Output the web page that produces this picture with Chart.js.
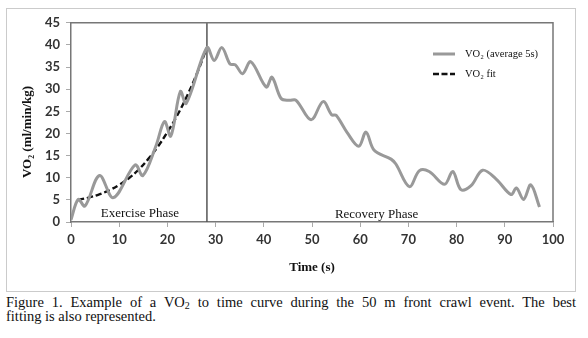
<!DOCTYPE html>
<html>
<head>
<meta charset="utf-8">
<script src="https://cdn.jsdelivr.net/npm/chart.js@4.4.1/dist/chart.umd.min.js"></script>
<style>
  html, body { margin: 0; padding: 0; background: #fff; }
  body { width: 588px; height: 338px; position: relative; overflow: hidden; }
  #box { position: absolute; left: 6px; top: 8px; width: 568px; height: 282px; border: 1px solid #cbcbcb; }
  #box canvas { display: block; }
  #caption { position: absolute; left: 6px; top: 296px; width: 570px; font-family: "Liberation Serif", "Times New Roman", serif; font-size: 14.5px; line-height: 13.5px; color: #111; }
  #caption .l1 { text-align: justify; text-align-last: justify; }
  #caption sub { font-size: 10px; vertical-align: -2px; line-height: 0; }
</style>
</head>
<body>
<div id="box"><canvas id="chartVO2" width="568" height="282"></canvas></div>
<div id="caption">
  <div class="l1">Figure 1. Example of a VO<sub>2</sub> to time curve during the 50 m front crawl event. The best</div>
  <div>fitting is also represented.</div>
</div>
<script>
// VO2 (average 5s)
const tempoVO2 = [0, 1.5, 2.9, 5.9, 8.8, 13.3, 14.9, 17.6, 19.4, 20.7, 22.7, 23.9, 28.2,
    29.7, 31.3, 33.0, 34.1, 35.6, 37.3, 40.5, 41.7, 43.6, 45.3, 46.7, 49.8, 52.3, 54.1, 55.0,
    57.3, 59.7, 61.2, 62.9, 66.4, 67.4, 70.2, 72.3, 74.3, 77.5, 79.2, 80.9, 83.0, 85.4, 88.2,
    91.3, 92.4, 93.9, 95.4, 97.2];
const valoresVO2 = [0.5, 5.1, 3.6, 10.5, 5.5, 12.9, 10.5, 17.1, 22.7, 19.4, 29.5, 26.8, 39.4,
    36.5, 39.4, 35.7, 35.5, 33.5, 36.2, 30.5, 32.7, 27.9, 27.5, 27.5, 23.1, 27.2, 24.2, 24.1,
    20.2, 17.1, 20.3, 16.2, 14.2, 13.1, 8.0, 11.6, 11.4, 8.5, 11.4, 7.3, 8.2, 11.7, 9.7,
    6.2, 7.7, 5.1, 8.4, 3.4];

// curva de ajuste (tracejada)
const tempoFit = [1.5, 4, 6, 8, 10, 12, 14, 16, 18, 20, 22, 24, 26, 28.2];
const valoresFit = [5.0, 5.6, 6.3, 7.2, 8.4, 9.9, 11.8, 14.2, 17.0, 20.3, 24.0, 28.3, 33.2, 39.4];

// fim da fase de exercício
const tempoFase = 28.2;
const fases = ['Exercise Phase', 'Recovery Phase'];
const posFases = [[14.3, 1.9], [63.4, 1.7]];

const legendas = ['VO\u2082 (average 5s)', 'VO\u2082 fit'];
const ticksX = [0, 100, 10];
const ticksY = [0, 45, 5];

const fonteTick = { family: 'Lato', weight: 'bold', size: 13 };

const molduraPlugin = {
    id: 'moldura',
    afterDatasetsDraw(chart) {
        const { ctx, chartArea: a, scales } = chart;
        ctx.save();
        // topo e direita do quadro
        ctx.strokeStyle = '#777';
        ctx.lineWidth = 1.5;
        ctx.beginPath();
        ctx.moveTo(a.left, a.top);
        ctx.lineTo(a.right, a.top);
        ctx.lineTo(a.right, a.bottom);
        ctx.stroke();

        // rótulos das fases
        ctx.fillStyle = '#111';
        ctx.font = '13px "Liberation Serif", serif';
        ctx.textAlign = 'center';
        ctx.textBaseline = 'middle';
        fases.forEach((txt, i) => {
            ctx.fillText(txt, scales.x.getPixelForValue(posFases[i][0]), scales.y.getPixelForValue(posFases[i][1]));
        });

        // legenda
        ctx.textAlign = 'left';
        ctx.font = '10.5px "Liberation Serif", serif';
        const ds = chart.data.datasets;
        [0, 1].forEach((i) => {
            const y = 45 + i * 20;
            ctx.strokeStyle = ds[i].borderColor;
            ctx.lineWidth = i === 0 ? 3 : 2.5;
            ctx.setLineDash(i === 0 ? [] : [6, 2.5]);
            ctx.beginPath();
            ctx.moveTo(426, y);
            ctx.lineTo(448, y);
            ctx.stroke();
            ctx.setLineDash([]);
            ctx.fillText(legendas[i], 458, y);
        });

        // título do eixo y
        ctx.translate(21, 123);
        ctx.rotate(-Math.PI / 2);
        ctx.textAlign = 'center';
        ctx.font = 'bold 13px "Liberation Serif", serif';
        ctx.fillText('VO\u2082 (ml/min/kg)', 0, 0);
        ctx.restore();
    }
};

function gerarGrafico() {
    const config = {
        type: 'line',
        data: {
            datasets: [{
                label: legendas[0],
                data: tempoVO2.map((t, i) => ({ x: t, y: valoresVO2[i] })),
                borderColor: '#999999',
                borderWidth: 3,
                pointRadius: 0,
                tension: 0.35
            }, {
                label: legendas[1],
                data: tempoFit.map((t, i) => ({ x: t, y: valoresFit[i] })),
                borderColor: '#111111',
                borderWidth: 2.4,
                borderDash: [6, 3],
                pointRadius: 0,
                tension: 0.4
            }, {
                label: 'fase',
                data: [{ x: tempoFase, y: ticksY[0] }, { x: tempoFase, y: ticksY[1] }],
                borderColor: '#555555',
                borderWidth: 1.5,
                pointRadius: 0
            }]
        },
        options: {
            responsive: false,
            animation: false,
            devicePixelRatio: 1,
            layout: { padding: { left: 0, right: 22, top: 12, bottom: 0 } },
            plugins: { legend: { display: false }, tooltip: { enabled: false } },
            scales: {
                x: {
                    type: 'linear',
                    min: ticksX[0], max: ticksX[1],
                    ticks: { stepSize: ticksX[2], font: fonteTick, color: '#333', padding: 5 },
                    grid: { drawOnChartArea: false, drawTicks: true, tickLength: 5, color: '#aaa' },
                    border: { display: true, color: '#777', width: 1.5 },
                    title: { display: true, text: 'Time (s)', color: '#111', padding: { top: 0, bottom: 16 },
                        font: { family: 'Liberation Serif', weight: 'bold', size: 13 } },
                    afterFit: (s) => { s.height = 69; }
                },
                y: {
                    min: ticksY[0], max: ticksY[1],
                    ticks: { stepSize: ticksY[2], font: fonteTick, color: '#333', padding: 6 },
                    grid: { drawOnChartArea: false, drawTicks: true, tickLength: 5, color: '#aaa' },
                    border: { display: true, color: '#777', width: 1.5 },
                    afterFit: (s) => { s.width = 64; }
                }
            }
        },
        plugins: [molduraPlugin]
    };
    return new Chart(document.getElementById('chartVO2'), config);
}

document.addEventListener('DOMContentLoaded', () => {
    // espera as fontes para o canvas não cair no fallback
    const fontes = ['13px "Liberation Serif"', 'bold 13px "Liberation Serif"', 'bold 13px Lato', '10.5px "Liberation Serif"'];
    Promise.all(fontes.map((f) => document.fonts.load(f, 'VO\u2082 Phase'))).then(gerarGrafico, gerarGrafico);
});
</script>
</body>
</html>
